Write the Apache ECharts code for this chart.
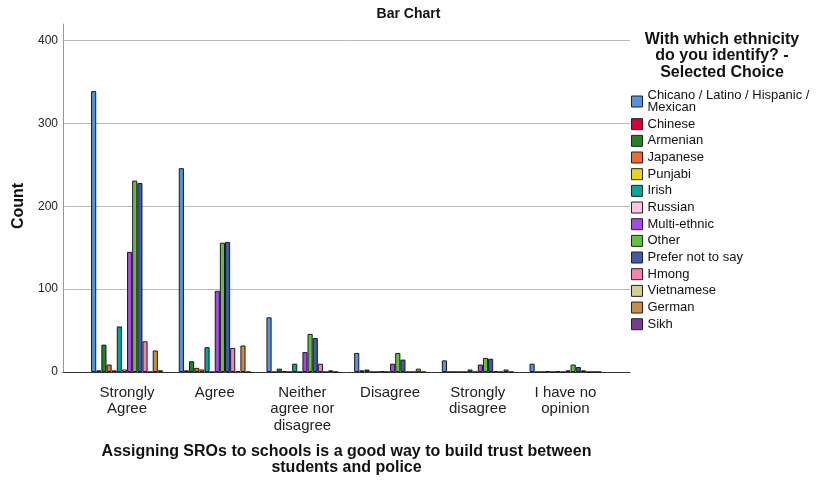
<!DOCTYPE html>
<html>
<head>
<meta charset="utf-8">
<script src="https://cdn.jsdelivr.net/npm/echarts@6/dist/echarts.min.js"></script>
<style>
html,body{margin:0;padding:0;background:#fff;}
#chart{width:817px;height:486px;}
</style>
</head>
<body>
<div id="chart"></div>
<script>
const categories = ['Strongly\nAgree', 'Agree', 'Neither\nagree nor\ndisagree', 'Disagree', 'Strongly\ndisagree', 'I have no\nopinion'];
const seriesNames = ['Chicano / Latino / Hispanic / Mexican', 'Chinese', 'Armenian', 'Japanese', 'Punjabi', 'Irish', 'Russian', 'Multi-ethnic', 'Other', 'Prefer not to say', 'Hmong', 'Vietnamese', 'German', 'Sikh'];
const chicano    = [339, 246, 66, 23, 14, 10];
const chinese    = [2, 2, 0, 2, 0, 0];
const armenian   = [33, 13, 4, 3, 0, 0];
const japanese   = [9, 5, 1, 0, 0, 1];
const punjabi    = [2, 3, 0, 0, 0, 0];
const irish      = [55, 30, 10, 1, 3, 1];
const russian    = [3, 0, 0, 0, 0, 0];
const multi      = [145, 98, 24, 10, 9, 2];
const other      = [231, 156, 46, 23, 17, 9];
const prefer     = [228, 157, 41, 15, 16, 6];
const hmong      = [37, 29, 10, 0, 1, 2];
const vietnamese = [0, 1, 0, 0, 0, 0];
const german     = [26, 32, 2, 4, 3, 0];
const sikh       = [2, 0, 0, 0, 0, 0];
const seriesValues = [chicano, chinese, armenian, japanese, punjabi, irish, russian, multi, other, prefer, hmong, vietnamese, german, sikh];
const colors = ['#5591e6', '#d4003a', '#228228', '#f26b2e', '#e4d816', '#00a89a', '#fcc6de', '#a54ae6', '#62c23e', '#3f5aa8', '#f783ac', '#d5cd94', '#cc8a44', '#7a3b92'];
const yTicks = [0, 100, 200, 300, 400];

const FONT = 'Arial, "Liberation Sans", sans-serif';
const chart = echarts.init(document.getElementById('chart'), null, {renderer: 'canvas'});

const series = seriesNames.map((name, i) => ({
  name: name,
  type: 'bar',
  xAxisIndex: 1,
  yAxisIndex: 1,
  data: seriesValues[i],
  barGap: '0%',
  barCategoryGap: '18%',
  itemStyle: {color: colors[i], borderColor: '#1a1a1a', borderWidth: 1},
  emphasis: {disabled: true},
  animation: false
}));

const option = {
  animation: false,
  color: colors,
  textStyle: {fontFamily: FONT},
  title: {
    text: 'Bar Chart',
    left: 'center',
    top: 2,
    textStyle: {fontFamily: FONT, fontSize: 14, fontWeight: 'bold', color: '#111'}
  },
  grid: [
    {left: 63, width: 567, top: 24, height: 348},
    {left: 83.2, width: 526.1, top: 24, height: 348}
  ],
  xAxis: [
    {
      type: 'value', gridIndex: 0, min: 0, max: 1,
      axisLine: {show: true, lineStyle: {color: '#333', width: 1}},
      axisTick: {show: false}, axisLabel: {show: false}, splitLine: {show: false},
      name: 'Assigning SROs to schools is a good way to build trust between\nstudents and police',
      nameLocation: 'middle', nameGap: 71.5,
      nameTextStyle: {fontFamily: FONT, fontSize: 16, fontWeight: 'bold', lineHeight: 16, color: '#111'}
    },
    {
      type: 'category', gridIndex: 1, data: categories,
      axisLine: {show: false}, axisTick: {show: false},
      axisLabel: {fontFamily: FONT, fontSize: 15, lineHeight: 16.5, color: '#222', margin: 12.5, interval: 0}
    }
  ],
  yAxis: [
    {
      type: 'value', gridIndex: 0, min: 0, max: 420, interval: 100,
      axisLine: {show: true, lineStyle: {color: '#999', width: 1}},
      axisTick: {show: false},
      axisLabel: {fontFamily: FONT, fontSize: 12, color: '#222', margin: 5, showMaxLabel: false,
        formatter: v => (yTicks.indexOf(v) >= 0 ? String(v) : '')},
      splitLine: {show: true, showMinLine: false, showMaxLine: false, lineStyle: {color: '#b8b8b8', width: 1}}
    },
    {
      type: 'value', gridIndex: 1, min: 0, max: 420, show: false,
      splitLine: {show: false}
    }
  ],
  legend: {
    orient: 'vertical',
    left: 626,
    top: 84,
    itemWidth: 11,
    itemHeight: 11,
    itemGap: 3.67,
    icon: 'rect',
    selectedMode: false,
    itemStyle: {borderColor: '#222', borderWidth: 1},
    formatter: n => n === 'Chicano / Latino / Hispanic / Mexican' ? 'Chicano / Latino / Hispanic /\nMexican' : n,
    textStyle: {fontFamily: FONT, fontSize: 13, lineHeight: 12, color: '#111'},
    data: seriesNames
  },
  graphic: [
    {
      type: 'text', x: 722, y: 31,
      style: {text: 'With which ethnicity\ndo you identify? -\nSelected Choice', font: 'bold 16px ' + FONT,
        textAlign: 'center', textVerticalAlign: 'top', lineHeight: 16.5, fill: '#111'}
    },
    {
      type: 'text', x: 19, y: 206, rotation: Math.PI / 2,
      style: {text: 'Count', font: 'bold 16px ' + FONT, textAlign: 'center', textVerticalAlign: 'middle', fill: '#111'}
    }
  ],
  series: series
};
chart.setOption(option);
</script>
</body>
</html>
